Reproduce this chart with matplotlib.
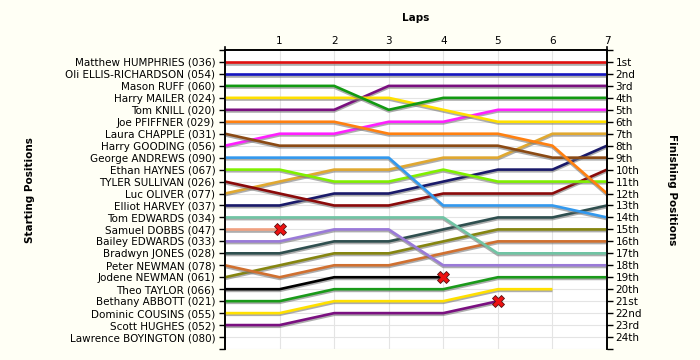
import matplotlib
matplotlib.use('Agg')
import matplotlib.pyplot as plt
import matplotlib.patheffects as pe
import numpy as np

# riders in starting order
riders = ["Matthew HUMPHRIES (036)", "Oli ELLIS-RICHARDSON (054)", "Mason RUFF (060)",
          "Harry MAILER (024)", "Tom KNILL (020)", "Joe PFIFFNER (029)",
          "Laura CHAPPLE (031)", "Harry GOODING (056)", "George ANDREWS (090)",
          "Ethan HAYNES (067)", "TYLER SULLIVAN (026)", "Luc OLIVER (077)",
          "Elliot HARVEY (037)", "Tom EDWARDS (034)", "Samuel DOBBS (047)",
          "Bailey EDWARDS (033)", "Bradwyn JONES (028)", "Peter NEWMAN (078)",
          "Jodene NEWMAN (061)", "Theo TAYLOR (066)", "Bethany ABBOTT (021)",
          "Dominic COUSINS (055)", "Scott HUGHES (052)", "Lawrence BOYINGTON (080)"]

# position after each lap (lap 0 = start)
positions = [
    [1, 1, 1, 1, 1, 1, 1, 1],
    [2, 2, 2, 2, 2, 2, 2, 2],
    [3, 3, 3, 5, 4, 4, 4, 4],
    [4, 4, 4, 4, 5, 6, 6, 6],
    [5, 5, 5, 3, 3, 3, 3, 3],
    [6, 6, 6, 7, 7, 7, 8, 12],
    [7, 8, 8, 8, 8, 8, 9, 9],
    [8, 7, 7, 6, 6, 5, 5, 5],
    [9, 9, 9, 9, 13, 13, 13, 14],
    [10, 10, 11, 11, 10, 11, 11, 11],
    [11, 12, 13, 13, 12, 12, 12, 10],
    [12, 11, 10, 10, 9, 9, 7, 7],
    [13, 13, 12, 12, 11, 10, 10, 8],
    [14, 14, 14, 14, 14, 17, 17, 17],
    [15, 15],
    [16, 16, 15, 15, 18, 18, 18, 18],
    [17, 17, 16, 16, 15, 14, 14, 13],
    [18, 19, 18, 18, 17, 16, 16, 16],
    [19, 18, 17, 17, 16, 15, 15, 15],
    [20, 20, 19, 19, 19],
    [21, 21, 20, 20, 20, 19, 19, 19],
    [22, 22, 21, 21, 21, 20, 20],
    [23, 23, 22, 22, 22, 21],
    [],
]
retired = [False] * 14 + [True] + [False] * 4 + [True, False, False, True, False]

colors = ["#e01010", "#1515c0", "#129a12", "#ffe000", "#7a1080", "#ff8010",
          "#8b4a14", "#ff20ff", "#3399ee", "#80f000", "#8b0a0a", "#e0a830",
          "#1a1a6a", "#70c4a4", "#f0a080", "#9a7ad8", "#2f4f4f", "#d07030",
          "#858510", "#000000", "#1a9a1a", "#ffe000", "#7a1080", "#999999"]

finish_labels = ["1st", "2nd", "3rd"] + ["%dth" % i for i in range(4, 21)] + \
                ["21st", "22nd", "23rd", "24th"]
laps = np.arange(0, 8)
n = len(riders)

fig = plt.figure(figsize=(7, 3.6), dpi=100, facecolor="#fffff5")
ax = fig.add_axes([225 / 700, 11 / 360, 382 / 700, 299 / 360])
ax.set_facecolor("white")

shadow = [pe.SimpleLineShadow(offset=(0, -1.2), shadow_color="#777777", alpha=0.6), pe.Normal()]
for i in range(n):
    p = positions[i]
    if not p:
        continue
    ax.plot(laps[:len(p)], p, color=colors[i], lw=1.9, solid_capstyle="butt",
            path_effects=shadow, zorder=3 + (n - i) * 0.01)
    if retired[i]:
        ax.plot(laps[len(p) - 1], p[-1], marker="X", ms=8.5, color="#ee1111",
                mec="#551111", mew=0.6, zorder=5)

ax.set_xlim(0, 7)
ax.set_ylim(25, 0)
ax.set_yticks(np.arange(0, 26))
ax.set_yticklabels([""] + riders + [""], fontsize=7.5)
ax.set_xticks(laps)
ax.set_xticklabels([""] + [str(l) for l in laps[1:]], fontsize=7.5)
ax.xaxis.tick_top()
ax.tick_params(axis="x", length=0, pad=3)
ax.tick_params(axis="y", length=4, width=1, pad=3)

ax2 = ax.twinx()
ax2.set_ylim(25, 0)
ax2.set_yticks(np.arange(0, 26))
ax2.set_yticklabels([""] + finish_labels + [""], fontsize=7.5)
ax2.tick_params(axis="y", length=4, width=1, pad=2)

for a in (ax, ax2):
    a.spines["bottom"].set_visible(False)
    a.spines["top"].set_linewidth(1.2)
    a.spines["left"].set_linewidth(1.2)
    a.spines["right"].set_linewidth(1.2)

# short stubs above the corners
for x in (0, 7):
    ax.plot([x, x], [0, -0.25], color="black", lw=1.2, clip_on=False, zorder=6)

for y in range(1, 26):
    ax.axhline(y, color="#e4e4e4", lw=0.8, zorder=1)
for x in range(1, 7):
    ax.axvline(x, color="#e4e4e4", lw=0.8, zorder=1)

fig.text(416 / 700, 1 - 18 / 360, "Laps", ha="center", va="center", fontsize=7.5, fontweight="bold")
fig.text(30 / 700, 0.5 - 10 / 360, "Starting Positions", ha="center", va="center",
         rotation=90, fontsize=7.5, fontweight="bold")
fig.text(672 / 700, 0.5 - 10 / 360, "Finishing Positions", ha="center", va="center",
         rotation=270, fontsize=7.5, fontweight="bold")

fig.savefig("out.png", dpi=100, facecolor=fig.get_facecolor())
